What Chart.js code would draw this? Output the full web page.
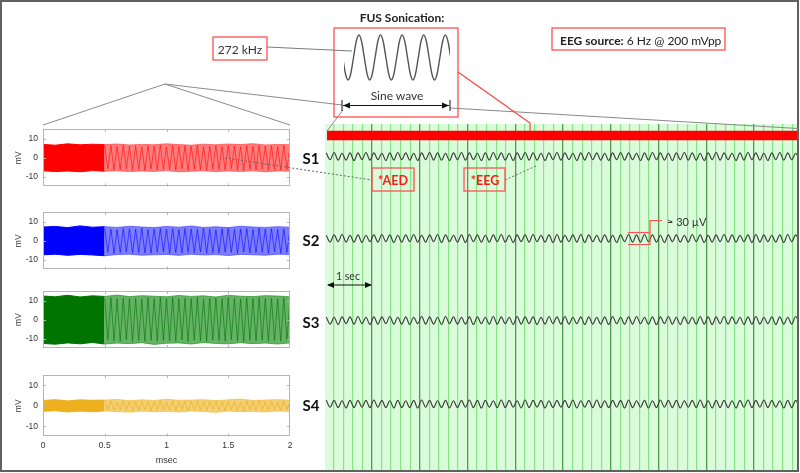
<!DOCTYPE html>
<html><head><meta charset="utf-8">
<script src="https://cdn.jsdelivr.net/npm/chart.js@4/dist/chart.umd.min.js"></script>
<style>
html,body{margin:0;padding:0;background:#fff;}
#wrap{position:relative;width:800px;height:473px;overflow:hidden;background:#fff;}
canvas{position:absolute;}
#ov{position:absolute;left:0;top:0;z-index:5;pointer-events:none;}
</style></head><body>
<div id="wrap">
<canvas id="sub1"></canvas><canvas id="sub2"></canvas><canvas id="sub3"></canvas><canvas id="sub4"></canvas>
<canvas id="eeg"></canvas>
<canvas id="sine"></canvas>
<svg id="ov" width="800" height="473" xmlns="http://www.w3.org/2000/svg">
  <rect x="1" y="1" width="797" height="470" fill="none" stroke="#606060" stroke-width="2"/>
  <!-- zoom connectors -->
  <polyline points="43,125 165,84 290,125" fill="none" stroke="#8a8a8a" stroke-width="1"/>
  <line x1="165" y1="84" x2="342" y2="105" stroke="#8a8a8a" stroke-width="1"/>
  <line x1="450" y1="108" x2="798" y2="128.5" stroke="#8a8a8a" stroke-width="1"/>
  <line x1="343" y1="110" x2="327" y2="131" stroke="#8a8a8a" stroke-width="1"/>
  <!-- boxes -->
  <rect x="334" y="28" width="124" height="89" fill="none" stroke="#ff5050" stroke-width="1.3"/>
  <rect x="213" y="37" width="54" height="23" fill="#fff" stroke="#ff5050" stroke-width="1.3"/>
  <rect x="552" y="28" width="173" height="22" fill="#fff" stroke="#ff5050" stroke-width="1.3"/>
  <rect x="372" y="168" width="42" height="23" fill="none" stroke="#ff5050" stroke-width="1.3"/>
  <rect x="464" y="168" width="41" height="23" fill="none" stroke="#ff5050" stroke-width="1.3"/>
  <line x1="267" y1="47" x2="352" y2="51" stroke="#7a7a7a" stroke-width="1"/>
  <polyline points="458,72 530,123 530,131" fill="none" stroke="#ff4040" stroke-width="1.2"/>
  <!-- dotted links -->
  <line x1="225" y1="158" x2="372" y2="180" stroke="#666" stroke-width="1" stroke-dasharray="2,2"/>
  <line x1="505" y1="180" x2="536" y2="166" stroke="#666" stroke-width="1" stroke-dasharray="2,2"/>
  <!-- sine wave dimension arrow -->
  <line x1="342" y1="100" x2="342" y2="111" stroke="#111" stroke-width="1"/>
  <line x1="450" y1="100" x2="450" y2="111" stroke="#111" stroke-width="1"/>
  <line x1="343" y1="105.5" x2="449" y2="105.5" stroke="#111" stroke-width="1.2"/>
  <polygon points="343,105.5 350,102.5 350,108.5" fill="#111"/>
  <polygon points="449,105.5 442,102.5 442,108.5" fill="#111"/>
  <!-- 1 sec arrow -->
  <line x1="328" y1="285" x2="371" y2="285" stroke="#111" stroke-width="1.2"/>
  <polygon points="327,285 334,282 334,288" fill="#111"/>
  <polygon points="372,285 365,282 365,288" fill="#111"/>
  <!-- 30 uV bracket -->
  <polyline points="628,232.5 650,232.5" fill="none" stroke="#ff5050" stroke-width="1.2"/>
  <polyline points="628,244.5 650,244.5 650,220.5 662,220.5" fill="none" stroke="#ff5050" stroke-width="1.2"/>
  <!-- texts -->
  <g font-family="Lato, 'Open Sans', sans-serif">
    <text x="402" y="17" text-anchor="middle" dominant-baseline="central" font-size="12" font-weight="bold" fill="#222">FUS Sonication:</text>
    <text x="397" y="95" text-anchor="middle" dominant-baseline="central" font-size="12" fill="#333">Sine wave</text>
    <text x="240" y="49" text-anchor="middle" dominant-baseline="central" font-size="12" fill="#333">272 kHz</text>
    <text x="560" y="40" text-anchor="start" dominant-baseline="central" font-size="12" fill="#222"><tspan font-weight="bold">EEG source:</tspan> 6 Hz @ 200 mVpp</text>
    <text x="393" y="180" text-anchor="middle" dominant-baseline="central" font-size="12.5" font-weight="bold" fill="#ff1a1a">*AED</text>
    <text x="485" y="180" text-anchor="middle" dominant-baseline="central" font-size="12.5" font-weight="bold" fill="#ff1a1a">*EEG</text>
    <text x="348" y="276" text-anchor="middle" dominant-baseline="central" font-size="10.5" fill="#333">1 sec</text>
    <text x="667" y="221" text-anchor="start" dominant-baseline="central" font-size="11" fill="#333">≈ 30 µV</text>
    <text x="311" y="158" text-anchor="middle" dominant-baseline="central" font-size="15" font-weight="bold" fill="#111">S1</text>
    <text x="311" y="240" text-anchor="middle" dominant-baseline="central" font-size="15" font-weight="bold" fill="#111">S2</text>
    <text x="311" y="322" text-anchor="middle" dominant-baseline="central" font-size="15" font-weight="bold" fill="#111">S3</text>
    <text x="311" y="405" text-anchor="middle" dominant-baseline="central" font-size="15" font-weight="bold" fill="#111">S4</text>
  </g>
</svg>
</div>
<script>
// ---------------- DATA ----------------
// Left panels: transducer output (mV) vs time (msec)
const envTimes = [0,0.1,0.2,0.3,0.4,0.5,0.6,0.7,0.8,0.9,1.0,1.1,1.2,1.3,1.4,1.5,1.6,1.7,1.8,1.9,2.0];
const redTop = [7.0,6.6,7.3,6.8,7.1,6.9,7.2,6.7,7.0,6.8,7.3,6.9,6.6,7.1,6.8,7.2,6.9,7.4,6.7,7.0,6.8];
const redBot = [-6.8,-7.2,-6.9,-7.3,-6.7,-7.0,-6.8,-7.2,-6.9,-7.1,-6.7,-7.3,-7.0,-6.8,-7.2,-6.9,-7.1,-6.8,-7.3,-6.9,-7.0];
const blueTop = [7.2,7.5,6.9,7.8,7.1,7.4,7.0,7.6,7.2,6.9,7.5,7.1,7.7,7.0,7.3,6.9,7.6,7.2,7.0,7.4,7.1];
const blueBot = [-7.3,-7.0,-7.6,-7.1,-7.4,-7.8,-7.2,-7.0,-7.5,-7.3,-7.1,-7.6,-7.0,-7.4,-7.2,-7.7,-7.1,-7.3,-7.5,-7.0,-7.2];
const greenTop = [12.4,12.0,12.8,11.9,12.5,12.2,12.9,12.1,12.6,12.3,12.0,12.7,12.2,12.5,11.9,12.8,12.3,12.1,12.6,12.4,12.0];
const greenBot = [-12.6,-13.0,-12.3,-12.8,-12.1,-12.9,-12.4,-12.7,-12.2,-13.1,-12.5,-12.3,-12.9,-12.1,-12.6,-12.8,-12.2,-12.7,-12.4,-12.9,-12.3];
const yellowTop = [2.6,3.0,2.4,2.9,2.7,2.8,3.1,2.5,2.9,2.6,3.2,2.7,2.8,3.0,2.5,2.9,3.3,2.6,2.8,3.0,2.7];
const yellowBot = [-2.7,-2.4,-3.0,-2.6,-2.9,-2.5,-2.8,-3.1,-2.6,-2.9,-2.7,-3.0,-2.5,-2.8,-3.2,-2.6,-2.9,-2.7,-3.0,-2.6,-2.8];
// visible oscillation extremes, 0.5 .. 2 msec
const redZig = [6.2,-5.8,6.5,-6.4,5.9,-6.1,6.6,-5.7,6.0,-6.5, 6.3,-6.0,5.8,-6.6,6.4,-5.9,6.1,-6.3,6.7,-6.0, 5.7,-6.2,6.5,-6.4,6.0,-5.8,6.3,-6.6,6.1,-6.0, 6.6,-6.2,5.9,-6.5,6.2,-5.9,6.4,-6.1,6.0,-6.4, 6.5,-5.7,6.2,-6.3,5.8,-6.6,6.4,-6.0,6.1,-6.2, 6.6,-5.9,6.0,-6.5,6.3,-6.1,5.9,-6.4,6.5,-6.0, 6.2];
const blueZig = [6.4,-6.0,6.1,-6.6,5.8,-6.2,6.5,-5.9,6.3,-6.4, 6.0,-6.1,6.6,-6.3,5.9,-6.5,6.2,-6.0,6.4,-5.8, 6.1,-6.6,6.3,-6.2,5.9,-6.4,6.5,-6.0,6.2,-6.3, 6.0,-5.9,6.6,-6.5,6.1,-6.2,5.8,-6.4,6.3,-6.0, 6.5,-6.1,6.0,-6.6,6.2,-5.9,6.4,-6.3,5.9,-6.2, 6.6,-6.0,6.1,-6.4,6.3,-5.8,6.0,-6.5,6.2,-6.1, 6.4];
const greenZig = [11.2,-10.8,11.6,-11.3,10.9,-11.5,11.4,-10.7,11.0,-11.6, 11.3,-11.0,10.8,-11.4,11.5,-10.9,11.1,-11.3,11.7,-11.0, 10.9,-11.2,11.5,-11.4,11.0,-10.8,11.3,-11.6,11.1,-11.0, 11.6,-11.2,10.9,-11.5,11.2,-10.9,11.4,-11.1,11.0,-11.4, 11.5,-10.7,11.2,-11.3,10.8,-11.6,11.4,-11.0,11.1,-11.2, 11.6,-10.9,11.0,-11.5,11.3,-11.1,10.9,-11.4,11.5,-11.0, 11.2];
const yellowZig = [2.1,-1.8,2.4,-2.2,1.7,-2.0,2.5,-1.9,2.2,-2.3, 1.9,-2.1,2.3,-1.7,2.0,-2.4,2.2,-1.9,2.6,-2.0, 1.8,-2.2,2.4,-2.1,2.0,-1.8,2.3,-2.5,2.1,-2.0, 2.5,-2.2,1.9,-2.3,2.1,-1.8,2.4,-2.0,2.2,-2.4, 2.3,-1.7,2.0,-2.2,1.8,-2.5,2.4,-2.0,2.1,-2.1, 2.6,-1.9,2.0,-2.3,2.2,-2.0,1.9,-2.4,2.3,-2.0, 2.1];
const subXTicks = [0,0.5,1,1.5,2];
const subYTicks = [-10,0,10];

// Right panel: EEG traces (µV), extremes of 6 Hz wave, one every 1/12 s
const eegStart = 0.04;
const eegS1 = [9,-8,10,-9,8,-9,9,-10,9,-8, 10,-9,9,-8,8,-10,9,-9,10,-8, 9,-9,8,-10,9,-8,10,-9,9,-9, 8,-10,9,-8,10,-9,9,-8,8,-10, 9,-9,10,-8,9,-9,8,-10,9,-8, 10,-9,9,-9,8,-10,9,-8,10,-9, 9,-8,8,-10,9,-9,10,-8,9,-9, 8,-10,9,-8,10,-9,9,-8,8,-10, 9,-9,10,-8,9,-9,8,-10,9,-8, 10,-9,9,-9,8,-10,9,-8,10,-9, 9,-8,8,-10,9,-9,10,-8,9,-9, 8,-10,9,-8,10,-9,9,-8,8,-10];
const eegS2 = [8,-9,9,-8,10,-9,8,-9,9,-10, 8,-8,9,-9,10,-8,9,-10,8,-9, 9,-8,10,-9,8,-9,9,-8,10,-10, 9,-8,8,-9,9,-10,10,-8,9,-9, 8,-9,9,-8,10,-9,8,-10,9,-8, 9,-9,10,-8,8,-9,9,-10,10,-9, 8,-8,9,-9,10,-10,9,-8,8,-9, 9,-9,8,-10,9,-8,10,-9,9,-9, 10,-8,9,-9,8,-10,9,-8,9,-9, 8,-9,10,-8,9,-10,8,-9,9,-8, 10,-9,9,-9,8,-8,9,-10,10,-9, 9,-8,8,-9,9,-10,10,-8,9,-9];
const eegS3 = [9,-9,8,-10,9,-8,9,-9,10,-8, 8,-10,9,-9,9,-8,10,-9,8,-9, 9,-10,8,-8,10,-9,9,-9,8,-10, 10,-8,9,-9,8,-9,9,-10,9,-8, 8,-9,10,-9,9,-8,8,-10,10,-9, 9,-8,9,-10,8,-9,10,-8,9,-9, 10,-9,8,-8,9,-10,9,-9,8,-9, 9,-10,10,-8,8,-9,9,-9,10,-8, 8,-9,9,-10,9,-8,10,-9,8,-10, 9,-8,8,-9,10,-9,9,-10,9,-8, 10,-9,9,-8,8,-10,9,-9,10,-9, 8,-8,9,-10,9,-9,8,-9,10,-8];
const eegS4 = [10,-8,9,-9,8,-10,9,-9,9,-8, 9,-9,10,-8,9,-9,8,-10,9,-9, 8,-9,9,-10,10,-8,9,-9,8,-9, 9,-10,8,-9,9,-8,10,-9,9,-10, 9,-8,8,-9,10,-9,9,-8,8,-10, 10,-9,9,-8,9,-10,8,-9,9,-8, 9,-9,10,-10,8,-8,9,-9,10,-9, 8,-9,9,-8,9,-10,10,-9,8,-8, 9,-10,8,-9,10,-8,9,-9,9,-10, 8,-8,9,-9,10,-9,8,-10,9,-9, 9,-9,8,-10,9,-8,10,-9,9,-8, 10,-9,9,-8,8,-10,9,-9,9,-9];
const fusOn = [0.058, 9.95];   // sonication (red bar) start / end, s
const secondsMajor = [0,1,2,3,4,5,6,7,8,9];

// Inset: FUS sine wave (cycles vs normalized amplitude)
const sineStart = -0.06;
const sineValues = [0,-0.71,-1,-0.71,0,0.71,1,0.71, 0,-0.71,-1,-0.71,0,0.71,1,0.71, 0,-0.71,-1,-0.71,0,0.71,1,0.71, 0,-0.71,-1,-0.71,0,0.71,1,0.71, 0,-0.71,-1,-0.71,0,0.71,1,0.71, 0];

// ---------------- LAYOUT / STYLE ----------------
const TICK_FONT = "'Liberation Sans', Arial, sans-serif";
const SUB_TOPS = [124.5, 207.5, 287, 370.5];
const SUB_H = [67.5, 67.5, 67, 65.5];

const boxPlugin = {
  id:'boxTicks',
  afterDraw(ch){
    const {ctx, chartArea:a, scales:{x,y}} = ch;
    ctx.save();
    ctx.strokeStyle = '#b4b4b4'; ctx.lineWidth = 1;
    ctx.strokeRect(Math.round(a.left)+0.5, Math.round(a.top)+0.5, Math.round(a.right-a.left)-1, Math.round(a.bottom-a.top)-1);
    ctx.beginPath();
    subXTicks.slice(1,-1).forEach(v=>{
      const px = Math.round(x.getPixelForValue(v))+0.5;
      ctx.moveTo(px,a.top); ctx.lineTo(px,a.top+3);
      ctx.moveTo(px,a.bottom); ctx.lineTo(px,a.bottom-3);
    });
    subYTicks.forEach(v=>{
      const py = Math.round(y.getPixelForValue(v))+0.5;
      ctx.moveTo(a.left,py); ctx.lineTo(a.left+3,py);
      ctx.moveTo(a.right,py); ctx.lineTo(a.right-3,py);
    });
    ctx.stroke();
    ctx.restore();
  }
};

function subChart(id, idx, col, light, zigCol, top, bot, zig, showX){
  const axTop = SUB_TOPS[idx], axH = SUB_H[idx];
  const cTop = Math.round(axTop) - 6;
  const cH = showX ? 473 - cTop : Math.round(axH) + 12;
  const cv = document.getElementById(id);
  cv.width = 300; cv.height = cH;
  cv.style.left = '0px'; cv.style.top = cTop + 'px'; cv.style.width = '300px'; cv.style.height = cH + 'px';
  const pts = arr => envTimes.map((t,i)=>({x:t, y:arr[i]}));
  const denseTop = pts(top).filter(p=>p.x<=0.5), denseBot = pts(bot).filter(p=>p.x<=0.5);
  const lightTop = pts(top).filter(p=>p.x>=0.5), lightBot = pts(bot).filter(p=>p.x>=0.5);
  const zigPts = zig.map((v,i)=>({x:0.5 + i*1.5/(zig.length-1), y:v}));
  const innerH = Math.round(axTop)+axH - cTop;
  new Chart(cv, {
    type:'line',
    data:{datasets:[
      {data:zigPts, borderColor:zigCol, borderWidth:0.7, pointRadius:0, fill:false},
      {data:denseTop, borderColor:col, borderWidth:1, backgroundColor:col, pointRadius:0, fill:'+1'},
      {data:denseBot, borderColor:col, borderWidth:1, pointRadius:0, fill:false},
      {data:lightTop, borderColor:light, borderWidth:1, backgroundColor:light, pointRadius:0, fill:'+1'},
      {data:lightBot, borderColor:light, borderWidth:1, pointRadius:0, fill:false}
    ]},
    options:{
      responsive:false, animation:false, devicePixelRatio:1,
      layout:{padding:{top:6, right:10, bottom: showX?0:6, left:0}},
      plugins:{legend:{display:false}, tooltip:{enabled:false}},
      elements:{line:{tension:0}, point:{radius:0}},
      scales:{
        x:{type:'linear', min:0, max:2, display:showX,
           ticks:{stepSize:0.5, color:'#333', font:{family:TICK_FONT, size:8.5}, padding:4, maxRotation:0, autoSkip:false,
                  callback(v){ return String(v); }},
           afterBuildTicks(s){ s.ticks = subXTicks.map(v=>({value:v})); },
           grid:{display:false, drawTicks:false}, border:{display:false},
           title:{display:true, text:'msec', color:'#333', font:{family:TICK_FONT, size:9}, padding:{top:2,bottom:7}},
           afterFit(s){ s.height = cH - innerH; }
        },
        y:{type:'linear', min:-15, max:15,
           ticks:{color:'#333', font:{family:TICK_FONT, size:8.5}, padding:5},
           afterBuildTicks(s){ s.ticks = subYTicks.map(v=>({value:v})); },
           grid:{display:false, drawTicks:false}, border:{display:false},
           title:{display:true, text:'mV', color:'#333', font:{family:TICK_FONT, size:8.5}, padding:{top:14,bottom:0}},
           afterFit(s){ s.width = 43; }
        }
      }
    },
    plugins:[boxPlugin]
  });
}

subChart('sub1', 0, '#ff0000', 'rgba(255,70,70,0.7)', 'rgba(255,0,0,0.8)', redTop, redBot, redZig, false);
subChart('sub2', 1, '#0000ff', 'rgba(70,70,255,0.7)', 'rgba(0,0,255,0.8)', blueTop, blueBot, blueZig, false);
subChart('sub3', 2, '#007400', 'rgba(40,150,40,0.72)', 'rgba(0,110,0,0.8)', greenTop, greenBot, greenZig, false);
subChart('sub4', 3, '#edb120', 'rgba(240,190,60,0.72)', 'rgba(232,170,20,0.85)', yellowTop, yellowBot, yellowZig, true);

// ---------------- EEG panel ----------------
const EEG_LEFT = 325, EEG_TOP = 124, EEG_W = 473, EEG_H = 347;
const PX_PER_SEC = 47.75, SEC0_PX = 324.25;
const UV_PER_PX = 2.5;
const BASELINES = [156.5, 238.5, 320.5, 404];
const BAR_Y = 135.5;
const xMin = (EEG_LEFT - SEC0_PX)/PX_PER_SEC, xMax = xMin + EEG_W/PX_PER_SEC;
const gridTimes = [];
secondsMajor.forEach(s=>{ [0,0.2,0.4,0.6,0.8].forEach(f=>{ const t=+(s+f).toFixed(1); if(t>xMin && t<xMax) gridTimes.push(t); }); });

const ev = document.getElementById('eeg');
ev.width = EEG_W; ev.height = EEG_H;
Object.assign(ev.style,{left:EEG_LEFT+'px', top:EEG_TOP+'px', width:EEG_W+'px', height:EEG_H+'px'});

function chanScale(b, k){
  const p = b - EEG_TOP;
  return {type:'linear', display:false, min:-(EEG_H-p)*k, max:p*k};
}
const eegPts = arr => arr.map((v,i)=>({x: eegStart + i/12, y: v}));
const bgPlugin = {id:'bg', beforeDraw(ch){ const {ctx, chartArea:a} = ch; ctx.save(); ctx.fillStyle='#dbfcdb'; ctx.fillRect(a.left,a.top,a.right-a.left,a.bottom-a.top); ctx.restore(); }};
const traceStyle = {borderColor:'#3a3a3a', borderWidth:1.1, pointRadius:0, fill:false, cubicInterpolationMode:'monotone'};
new Chart(ev, {
  type:'line',
  data:{datasets:[
    Object.assign({data:eegPts(eegS1), yAxisID:'c1'}, traceStyle),
    Object.assign({data:eegPts(eegS2), yAxisID:'c2'}, traceStyle),
    Object.assign({data:eegPts(eegS3), yAxisID:'c3'}, traceStyle),
    Object.assign({data:eegPts(eegS4), yAxisID:'c4'}, traceStyle),
    {data:[{x:fusOn[0],y:0},{x:fusOn[1],y:0}], yAxisID:'bar', borderColor:'#ff0000', borderWidth:9.5, borderCapStyle:'butt', pointRadius:0, fill:false}
  ]},
  options:{
    responsive:false, animation:false, devicePixelRatio:1,
    layout:{padding:0},
    plugins:{legend:{display:false}, tooltip:{enabled:false}},
    scales:{
      x:{type:'linear', min:xMin, max:xMax, display:true,
         ticks:{display:false},
         afterBuildTicks(s){ s.ticks = gridTimes.map(v=>({value:v})); },
         grid:{drawTicks:false,
               color: c => (Math.abs(c.tick.value - Math.round(c.tick.value))<1e-6) ? '#4f9c4f' : '#86e486',
               lineWidth: c => (Math.abs(c.tick.value - Math.round(c.tick.value))<1e-6) ? 1.3 : 1.2},
         border:{display:false},
         afterFit(s){ s.height = 0; }
      },
      c1: chanScale(BASELINES[0], UV_PER_PX),
      c2: chanScale(BASELINES[1], UV_PER_PX),
      c3: chanScale(BASELINES[2], UV_PER_PX),
      c4: chanScale(BASELINES[3], UV_PER_PX),
      bar: chanScale(BAR_Y, 1)
    }
  },
  plugins:[bgPlugin]
});

// ---------------- Sine inset ----------------
const sv = document.getElementById('sine');
const SIN_L = 344, SIN_T = 30, SIN_W = 106, SIN_H = 56;
sv.width = SIN_W; sv.height = SIN_H;
Object.assign(sv.style,{left:SIN_L+'px', top:SIN_T+'px', width:SIN_W+'px', height:SIN_H+'px'});
const PX_PER_CYCLE = 21.6;
new Chart(sv, {
  type:'line',
  data:{datasets:[{data: sineValues.map((v,i)=>({x: sineStart + i/8, y: v})), borderColor:'#555', borderWidth:1.4, pointRadius:0, fill:false, cubicInterpolationMode:'monotone'}]},
  options:{
    responsive:false, animation:false, devicePixelRatio:1,
    layout:{padding:0},
    plugins:{legend:{display:false}, tooltip:{enabled:false}},
    scales:{
      x:{type:'linear', display:false, min:0, max:SIN_W/PX_PER_CYCLE},
      y:{type:'linear', display:false, min:-1-6/22.5, max:1+5/22.5}
    }
  }
});
</script>
</body></html>
